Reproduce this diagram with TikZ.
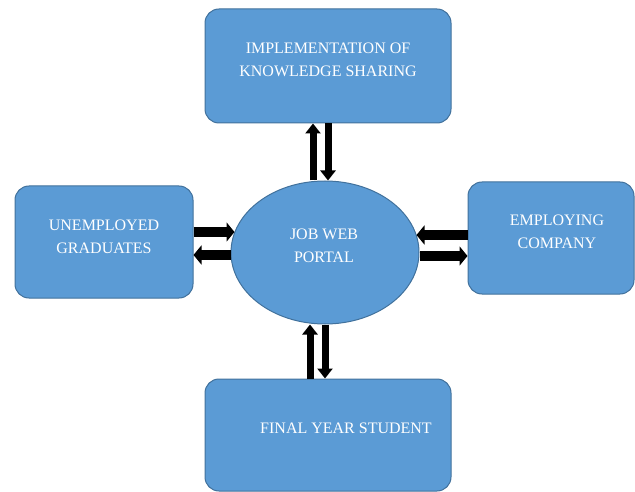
\documentclass[tikz,border=0pt]{standalone}
\usepackage{fontspec}
\setmainfont{Liberation Serif}
\usetikzlibrary{arrows.meta,shapes.geometric}
\definecolor{boxfill}{HTML}{5B9BD5}
\definecolor{boxline}{HTML}{41719C}
\begin{document}
\begin{tikzpicture}[x=1pt,y=-1pt,
  blk/.style={draw=boxline, fill=boxfill, line width=1pt, rounded corners=14pt, inner sep=0pt},
  oval/.style={ellipse, draw=boxline, fill=boxfill, line width=1pt, inner sep=0pt},
  lbl/.style={text=white, font=\fontsize{16}{23.5}\selectfont, align=center},
  vflow/.style={line width=7pt, -{Triangle[width=15pt,length=10pt]}},
  hflow/.style={line width=10pt, -{Triangle[width=19pt,length=8pt]}}]
\useasboundingbox (0,0) rectangle (635,492);
% shapes
\node[blk, minimum width=246pt, minimum height=114pt] (impl) at (328,66) {};
\node[blk, minimum width=178pt, minimum height=112pt] (unemp) at (104,242) {};
\node[blk, minimum width=166pt, minimum height=112pt] (emp) at (551,238) {};
\node[blk, minimum width=246pt, minimum height=112pt] (final) at (328,435) {};
\node[oval, minimum width=188pt, minimum height=143pt] (portal) at (325,252.5) {};
% labels
\node[lbl] (implt) at (328,60) {IMPLEMENTATION OF\\KNOWLEDGE SHARING};
\node[lbl] (unempt) at (104,237) {UNEMPLOYED\\GRADUATES};
\node[lbl] (empt) at (557,232) {EMPLOYING\\COMPANY};
\node[lbl] (finalt) at (346,428) {FINAL YEAR STUDENT};
\node[lbl] (portalt) at (324,246) {JOB WEB\\PORTAL};
% connectors
\draw[vflow] ([xshift=-12pt]portal.north) -- ([xshift=-15pt]impl.south);
\draw[vflow] (impl.south) -- ([xshift=3pt]portal.north);
\draw[vflow] ([xshift=-18pt]final.north) -- ([xshift=-15pt]portal.south);
\draw[vflow] (portal.south) -- ([xshift=-3pt]final.north);
\draw[hflow] ([yshift=10pt]unemp.east) -- ([xshift=4pt,yshift=20.5pt]portal.west);
\draw[hflow] ([yshift=-2.5pt]portal.west) -- ([yshift=-13pt]unemp.east);
\draw[hflow] ([yshift=3pt]emp.west) -- ([xshift=-3pt,yshift=17.5pt]portal.east);
\draw[hflow] ([yshift=-3.5pt]portal.east) -- ([yshift=-18pt]emp.west);
\end{tikzpicture}
\end{document}
